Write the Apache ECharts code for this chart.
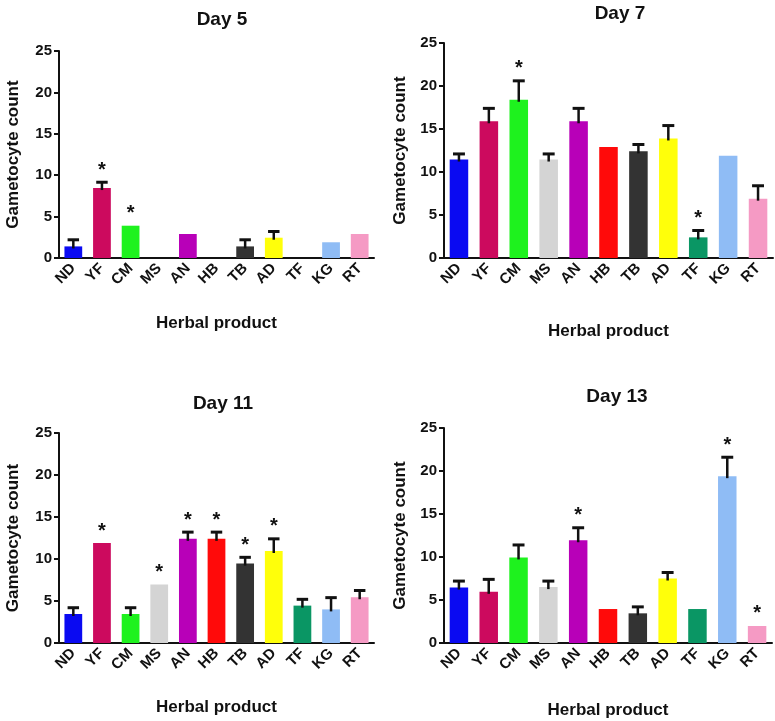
<!DOCTYPE html>
<html>
<head>
<meta charset="utf-8">
<script src="https://cdn.jsdelivr.net/npm/echarts@6/dist/echarts.min.js"></script>
<style>
  html, body { margin: 0; padding: 0; background: #fff; }
  #main { width: 775px; height: 721px; }
</style>
</head>
<body>
<div id="main"></div>
<script>
// herbal products and their bar colours
var categories = ['ND', 'YF', 'CM', 'MS', 'AN', 'HB', 'TB', 'AD', 'TF', 'KG', 'RT'];
var barColors = ['#0a0af2', '#cc0a5e', '#1ef21e', '#d4d4d4', '#b800b8', '#ff0a0a', '#333333', '#ffff0a', '#0a9664', '#8fbcf5', '#f59ac4'];
var yTicks = [0, 5, 10, 15, 20, 25];

// means, upper error bar ends (null = no bar), stars (1 = significant)
var day5Mean = [1.4, 8.45, 3.9, 0, 2.9, 0, 1.4, 2.45, 0, 1.9, 2.9];
var day5Err  = [2.2, 9.15, null, null, null, null, 2.2, 3.2, null, null, null];
var day5Star = [0, 1, 1, 0, 0, 0, 0, 0, 0, 0, 0];

var day7Mean = [11.45, 15.9, 18.4, 11.45, 15.9, 12.9, 12.4, 13.9, 2.4, 11.9, 6.9];
var day7Err  = [12.1, 17.4, 20.6, 12.1, 17.4, null, 13.2, 15.4, 3.2, null, 8.4];
var day7Star = [0, 0, 1, 0, 0, 0, 0, 0, 1, 0, 0];

var day11Mean = [3.45, 11.9, 3.45, 6.95, 12.4, 12.4, 9.45, 10.95, 4.45, 4.0, 5.45];
var day11Err  = [4.2, null, 4.2, null, 13.2, 13.2, 10.2, 12.4, 5.2, 5.4, 6.25];
var day11Star = [0, 1, 0, 1, 1, 1, 1, 1, 0, 0, 0];

var day13Mean = [6.45, 5.95, 9.95, 6.5, 11.95, 3.95, 3.45, 7.5, 3.95, 19.4, 1.98];
var day13Err  = [7.2, 7.4, 11.4, 7.2, 13.4, null, 4.2, 8.2, null, 21.6, null];
var day13Star = [0, 0, 0, 0, 1, 0, 0, 0, 0, 1, 1];

var panels = [
  { title: 'Day 5',  mean: day5Mean,  err: day5Err,  star: day5Star,
    grid: { left: 59, top: 51, width: 315, height: 207 }, titleX: 217, titleY: 5, xGap: 57, yGap: 37 },
  { title: 'Day 7',  mean: day7Mean,  err: day7Err,  star: day7Star,
    grid: { left: 444, top: 43, width: 329, height: 215 }, titleX: 615, titleY: -1, xGap: 65, yGap: 35 },
  { title: 'Day 11', mean: day11Mean, err: day11Err, star: day11Star,
    grid: { left: 59, top: 433, width: 315, height: 210 }, titleX: 218, titleY: 389, xGap: 56, yGap: 37 },
  { title: 'Day 13', mean: day13Mean, err: day13Err, star: day13Star,
    grid: { left: 444, top: 428, width: 328, height: 215 }, titleX: 612, titleY: 382, xGap: 59, yGap: 35 }
];

var font = 'Liberation Sans, Arial, sans-serif';
var axisStyle = { lineStyle: { color: '#111', width: 2 } };

var option = {
  backgroundColor: '#fff',
  animation: false,
  title: [], grid: [], xAxis: [], yAxis: [], series: []
};

panels.forEach(function (p, i) {
  option.title.push({
    text: p.title, left: p.titleX, top: p.titleY, textAlign: 'center',
    textStyle: { fontFamily: font, fontSize: 19, fontWeight: 'bold', color: '#111' }
  });
  option.grid.push(Object.assign({ containLabel: false }, p.grid));
  option.xAxis.push({
    type: 'category', gridIndex: i, data: categories,
    name: 'Herbal product', nameLocation: 'middle', nameGap: p.xGap,
    nameTextStyle: { fontFamily: font, fontSize: 17, fontWeight: 'bold', color: '#111' },
    axisLine: axisStyle,
    axisTick: { alignWithLabel: true, length: 5, lineStyle: { color: '#111', width: 2 } },
    axisLabel: { rotate: 45, margin: 8, interval: 0, fontFamily: font, fontSize: 15, fontWeight: 'bold', color: '#111' }
  });
  option.yAxis.push({
    type: 'value', gridIndex: i, min: yTicks[0], max: yTicks[yTicks.length - 1], interval: 5,
    name: 'Gametocyte count', nameLocation: 'middle', nameGap: p.yGap,
    nameTextStyle: { fontFamily: font, fontSize: 17, fontWeight: 'bold', color: '#111' },
    axisLine: { show: true, lineStyle: { color: '#111', width: 2 } },
    axisTick: { show: true, length: 5, lineStyle: { color: '#111', width: 2 } },
    axisLabel: { margin: 7, fontFamily: font, fontSize: 15, fontWeight: 'bold', color: '#111' },
    splitLine: { show: false }
  });
  option.series.push({
    type: 'bar', xAxisIndex: i, yAxisIndex: i, barWidth: '62%',
    data: p.mean.map(function (v, k) {
      return { value: v, itemStyle: { color: barColors[k] } };
    })
  });
  option.series.push({
    type: 'custom', xAxisIndex: i, yAxisIndex: i, z: 5,
    data: p.mean.map(function (v, k) {
      return [k, v, p.err[k] == null ? v : p.err[k], p.star[k]];
    }),
    encode: { x: 0, y: [1, 2] },
    renderItem: function (params, api) {
      var k = api.value(0);
      var base = api.coord([k, api.value(1)]);
      var top = api.coord([k, api.value(2)]);
      var band = api.size([1, 0])[0];
      var capHalf = band * 0.2;
      var children = [];
      if (top[1] < base[1] - 0.5) {
        children.push({
          type: 'line', shape: { x1: base[0], y1: base[1] + 2, x2: top[0], y2: top[1] },
          style: { stroke: '#111', lineWidth: 2.5 }
        });
        children.push({
          type: 'line', shape: { x1: top[0] - capHalf, y1: top[1], x2: top[0] + capHalf, y2: top[1] },
          style: { stroke: '#111', lineWidth: 3 }
        });
      }
      if (api.value(3)) {
        children.push({
          type: 'text',
          style: {
            text: '*', x: top[0], y: top[1] - 2, textAlign: 'center', textVerticalAlign: 'bottom',
            font: 'bold 20px ' + font, fill: '#111'
          }
        });
      }
      return { type: 'group', children: children };
    }
  });
});

var chart = echarts.init(document.getElementById('main'));
chart.setOption(option);
</script>
</body>
</html>
